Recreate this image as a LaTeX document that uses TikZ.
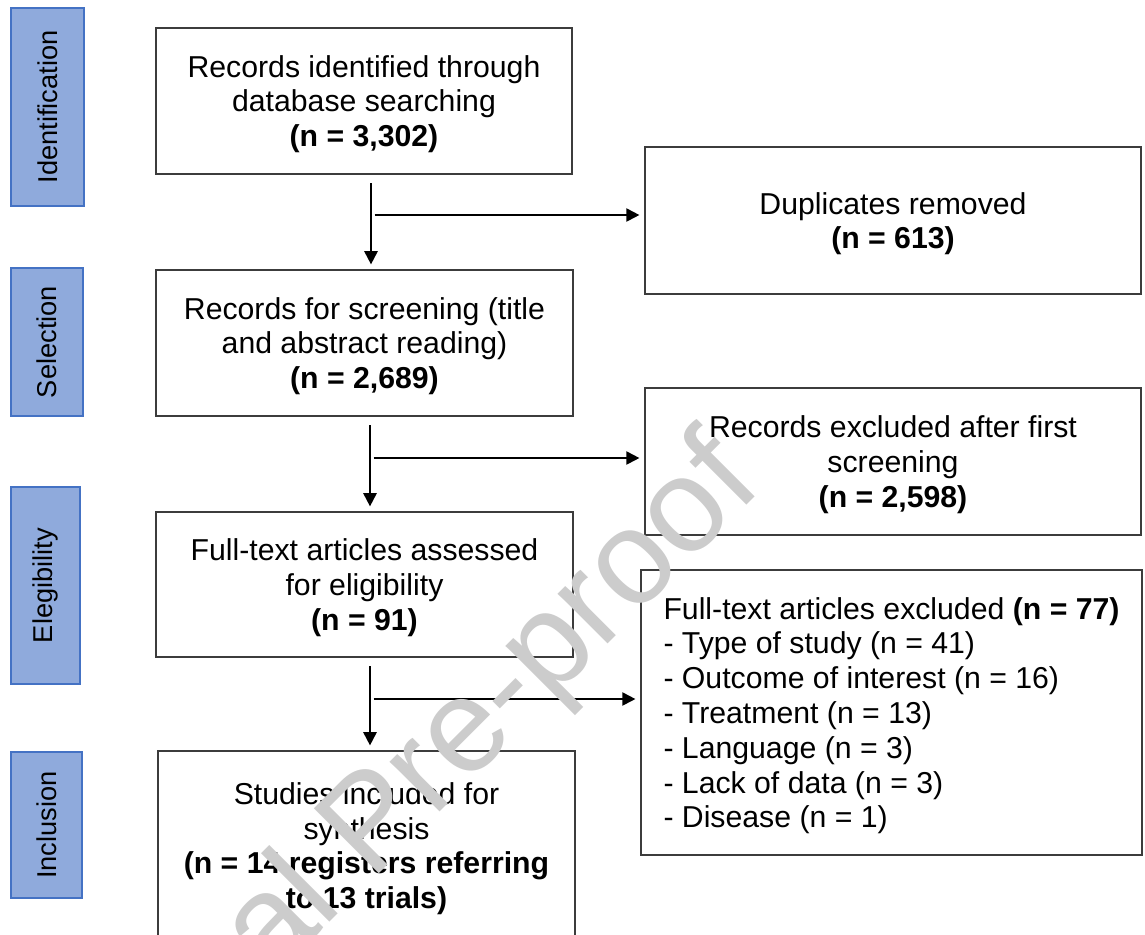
\documentclass[tikz,border=0pt]{standalone}
\usepackage{fontspec}
\setmainfont{Liberation Sans}
\usetikzlibrary{arrows.meta}
\definecolor{phasefill}{HTML}{8FAADC}
\definecolor{phasedraw}{HTML}{4472C4}
\definecolor{boxdraw}{HTML}{3C3C3C}
\tikzset{
	box/.style={
		draw=boxdraw,
		line width=0.8pt,
		rectangle,
		align=center,
		inner sep=0pt,
		text depth=-0.8pt,
		font=\fontsize{17.2}{19.8}\selectfont,
	},
	phase/.style={
		draw=phasedraw,
		fill=phasefill,
		line width=1.1pt,
		rectangle,
		rotate=90,
		inner sep=0pt,
		font=\fontsize{15.5}{18}\selectfont,
	},
	flow/.style={
		line width=1.1pt,
		shorten <=5pt,
		shorten >=2.8pt,
		-{Triangle[length=7.5pt,width=7.5pt]}
	},
	branch/.style={
		flow,
		shorten <=2pt,
	},
	wmark/.style={
		text=black!20,
		inner sep=0pt,
		rotate=45,
		font=\fontsize{76}{80}\selectfont,
	},
}
\begin{document}
\begin{tikzpicture}[x=0.02cm,y=-0.02cm]
		\useasboundingbox (0,0) rectangle (1145,934);

		% phases
		\node[phase, minimum width=3.96cm, minimum height=1.46cm] (lblid)   at (47.5,107)  {Identification};
		\node[phase, minimum width=2.96cm, minimum height=1.44cm] (lblsel)  at (47,342)    {Selection};
		\node[phase, minimum width=3.94cm, minimum height=1.38cm] (lblelig) at (45.5,585.5) {Elegibility};
		\node[phase, minimum width=2.92cm, minimum height=1.42cm] (lblincl) at (46.5,825)  {Inclusion};

%*********

		\node[box, minimum width=8.32cm, minimum height=2.92cm] (ident)  at (364,101)
			{Records identified through\\database searching\\\textbf{(n = 3,302)}};
		\node[box, minimum width=8.34cm, minimum height=2.92cm] (screen) at (364.5,343)
			{Records for screening (title\\and abstract reading)\\\textbf{(n = 2,689)}};
		\node[box, minimum width=8.34cm, minimum height=2.90cm] (elig)   at (364.5,584.5)
			{Full-text articles assessed\\for eligibility\\\textbf{(n = 91)}};
		\node[box, minimum width=8.34cm, minimum height=3.78cm] (incl)   at (366.5,845.5)
			{Studies included for\\synthesis\\\textbf{(n = 14 registers referring}\\\textbf{to 13 trials)}};

		\node[box, minimum width=9.92cm, minimum height=2.94cm] (dupl)   at (893,220.5)
			{Duplicates removed\\\textbf{(n = 613)}};
		\node[box, minimum width=9.92cm, minimum height=2.94cm] (excl)   at (893,461.5)
			{Records excluded after first\\screening\\\textbf{(n = 2,598)}};
		\node[box, align=left, minimum width=10.02cm, minimum height=5.70cm] (fullexcl) at (891.5,712.5)
			{Full-text articles excluded \textbf{(n = 77)}\\- Type of study (n = 41)\\- Outcome of interest (n = 16)\\- Treatment (n = 13)\\- Language (n = 3)\\- Lack of data (n = 3)\\- Disease (n = 1)};

%*********

		\coordinate (s1) at (371,215);
		\coordinate (s2) at (370,458);
		\coordinate (s3) at (370,699);

		\draw[flow]   (s1 |- ident.south)  -- (s1 |- screen.north);
		\draw[branch] (s1) -- (s1 -| dupl.west);

		\draw[flow]   (s2 |- screen.south) -- (s2 |- elig.north);
		\draw[branch] (s2) -- (s2 -| excl.west);

		\draw[flow]   (s3 |- elig.south)   -- (s3 |- incl.north);
		\draw[branch] (s3) -- (s3 -| fullexcl.west);

		% watermark
		\node[wmark, anchor=base east] (wm) at (765,487) {Journal Pre-proof};

	\end{tikzpicture}
\end{document}
